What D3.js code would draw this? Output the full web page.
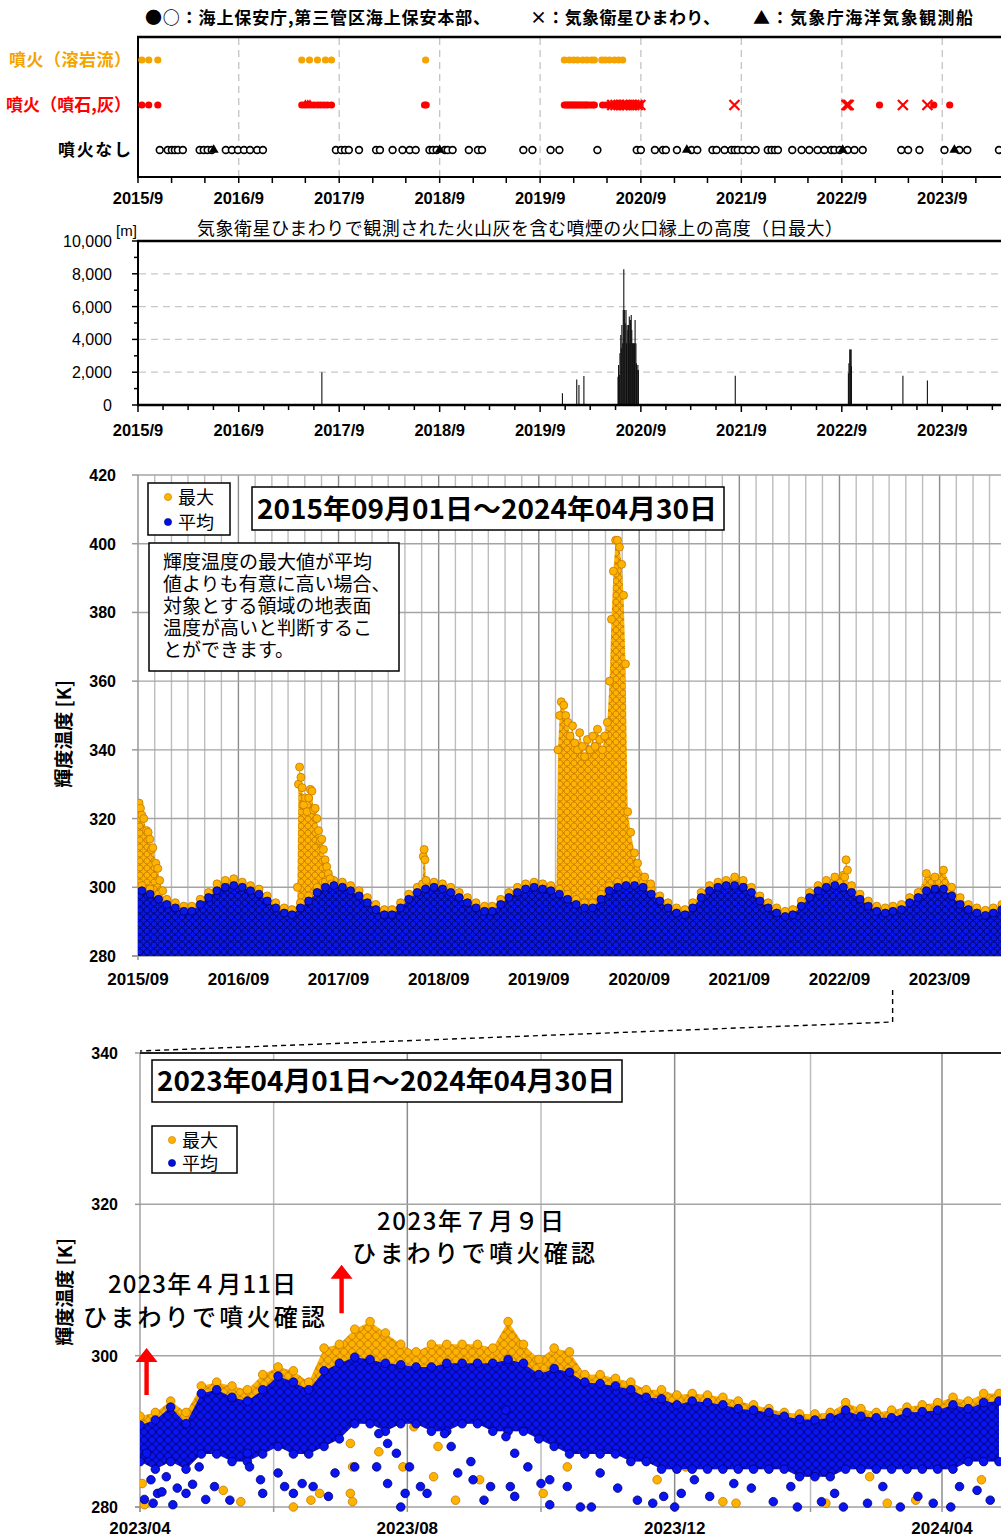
<!DOCTYPE html>
<html>
<head>
<meta charset="utf-8">
<script src="https://cdn.jsdelivr.net/npm/d3@7"></script>
<style>
  body { margin: 0; background: #fff; }
  svg { display: block; }
</style>
</head>
<body>
<svg id="chart" width="1001" height="1539"></svg>
<script>
// ---------- data ----------
// event timeline (top panel)
const lavaDates = ['2015-09-15','2015-10-10','2015-11-12','2017-04-18','2017-05-16','2017-06-14','2017-07-13','2017-08-04',
  '2018-07-12','2019-11-28','2019-12-16','2020-01-01','2020-01-15','2020-02-03','2020-02-18','2020-03-06','2020-03-16',
  '2020-04-12','2020-04-25','2020-05-10','2020-05-28','2020-06-12','2020-06-27'];
const ashDates = ['2015-09-15','2015-10-10','2015-11-12','2017-04-18','2017-04-28','2017-05-08','2017-05-20','2017-06-01',
  '2017-06-14','2017-06-25','2017-07-08','2017-07-20','2017-08-04','2018-07-08','2018-07-14',
  '2019-11-28','2019-12-04','2019-12-10','2019-12-16','2019-12-22','2019-12-28','2020-01-03','2020-01-09','2020-01-15',
  '2020-01-21','2020-01-27','2020-02-03','2020-02-09','2020-02-15','2020-02-21','2020-03-01','2020-03-10','2020-03-16',
  '2020-04-15','2020-04-28','2020-05-16','2020-05-21','2020-05-26','2020-05-31','2020-06-05','2020-06-10','2020-06-15',
  '2020-06-20','2020-06-25','2020-06-30','2020-07-05','2020-07-10','2020-07-15','2020-07-20','2020-07-25','2020-07-30',
  '2020-08-04','2020-08-09','2020-08-14','2020-08-19','2020-08-24','2020-08-29',
  '2023-01-16','2023-08-01','2023-09-28'];
const ashShipDates = ['2017-05-01','2017-05-10','2017-05-18'];
const ashHimawariDates = ['2020-05-20','2020-06-01','2020-06-12','2020-06-25','2020-07-05','2020-07-15','2020-07-28',
  '2020-08-08','2020-08-20','2020-08-30','2021-08-07','2022-09-18','2022-09-22','2022-09-26','2023-04-11','2023-07-09'];
const quietDates = ['2015-11-19','2015-12-18','2016-01-02','2016-01-13','2016-01-24','2016-02-11','2016-04-12','2016-04-27',
  '2016-05-11','2016-05-26','2016-07-16','2016-08-07','2016-08-29','2016-09-20','2016-10-12','2016-11-07','2016-11-28',
  '2017-08-20','2017-09-08','2017-09-22','2017-10-06','2017-11-12','2018-01-13','2018-01-27','2018-03-14','2018-04-19',
  '2018-05-15','2018-06-06','2018-07-26','2018-08-07','2018-08-21','2018-09-20','2018-09-30','2018-10-18','2018-12-16',
  '2019-01-18','2019-02-02','2019-07-02','2019-08-04','2019-10-09','2019-11-10','2020-03-27','2020-08-17','2020-09-01',
  '2020-10-22','2020-11-20','2020-12-01','2021-01-10','2021-03-04','2021-03-25','2021-05-19','2021-06-03','2021-07-02',
  '2021-07-27','2021-08-08','2021-08-19','2021-09-06','2021-09-28','2021-10-23','2021-12-06','2021-12-20','2022-01-01',
  '2022-01-12','2022-03-05','2022-04-08','2022-05-06','2022-06-05','2022-06-30','2022-07-25','2022-08-05','2022-08-24',
  '2022-09-22','2022-10-17','2022-11-16','2023-04-05','2023-04-30','2023-06-10','2023-09-09','2023-11-02','2023-12-01',
  '2024-03-25'];
const quietShipDates = ['2016-06-02','2018-09-01','2021-02-15','2022-09-04','2023-10-15'];

// plume height above crater rim [m] (second panel)
const plumeHeight = [
  ['2017-06-30',2000],['2019-11-21',710],['2020-01-12',1560],['2020-01-20',1220],['2020-02-07',1770],
  ['2020-06-10',1730],['2020-06-12',2440],['2020-06-15',1830],['2020-06-17',3150],['2020-06-20',4270],['2020-06-22',3460],
  ['2020-06-24',4880],['2020-06-27',3760],['2020-06-29',5790],['2020-07-01',8270],['2020-07-04',5790],['2020-07-06',4980],
  ['2020-07-09',5790],['2020-07-11',3760],['2020-07-13',4880],['2020-07-16',4570],['2020-07-18',4880],['2020-07-21',5390],
  ['2020-07-23',3760],['2020-07-25',5180],['2020-07-28',5490],['2020-07-30',4570],['2020-08-02',3760],['2020-08-04',3760],
  ['2020-08-06',3760],['2020-08-09',3760],['2020-08-11',5180],['2020-08-14',3760],['2020-08-16',2540],['2020-08-18',2130],
  ['2020-08-21',2440],['2020-08-23',2130],
  ['2021-08-10',1790],['2022-09-25',1930],['2022-09-27',2540],['2022-09-30',3390],['2022-10-02',3390],['2022-10-05',3390],
  ['2022-10-06',2340],['2023-04-11',1790],['2023-07-09',1500]];

// brightness temperature [K], monthly envelopes 2015/09 .. 2024/04 (main panel)
const meanTop = [299,298,296.5,295,
  294,293,293,295,297,299,300,300.5,300,299,298,296,
  294,292.5,292,294,296,298.5,300,300.5,300,299,297.5,295.5,
  293.5,292,292,294,296.5,298.5,299.5,300,299.5,298.5,297,295.5,
  294,293,293,295,297,298.5,299.5,300,299.5,299,298,296.5,
  295,294,294,296.5,299,300,300.5,300.5,300,298,296,294,
  292.5,292,294,297,299,300,300.5,300.5,300,298.5,296,294,
  292.5,291.5,292,294.5,297,299,300,300.5,300,298.5,296.5,294.5,
  293,292.5,293,293.5,295.5,297,299,299.5,299.5,297.5,295,293.5,
  292.5,291.8,292.5,293.5];
const maxTop = [300.5,299.5,298,296.5,
  295.5,294.5,294.5,296.5,298.5,301,302,302.5,301.5,300.5,299.5,297.5,
  295.5,294,293.5,295.5,297.5,300,301.5,302,301.5,300.5,299,297,
  295,293.5,293.5,295.5,298,300,301,301.5,301,300,298.5,297,
  295.5,294.5,294.5,296.5,298.5,300,301,301.5,301,300.5,299.5,298,
  296.5,295.5,295.5,298,300.5,301.5,302,302,301.5,299.5,297.5,295.5,
  294,293.5,295.5,298.5,300.5,301.5,302,303,302,300,297.5,295.5,
  294,293,293.5,296,298.5,300.5,302,303,303.5,300.5,298,296,
  294.5,294,294.5,295,297,298.5,304,303,305,300,297,295,
  294,293.3,294,295];
// eruption-period maxima (upper edge of the orange clusters)
const spike2015 = [['2015-09-01',322],['2015-09-05',324.5],['2015-09-10',323],['2015-09-15',321],['2015-09-22',320],
  ['2015-10-02',316.5],['2015-10-08',316],['2015-10-14',314],['2015-10-20',311],['2015-10-25',311.5],['2015-11-05',307],
  ['2015-11-12',305.5],['2015-11-19',302],['2015-11-30',299]];
const spike2017 = [['2017-04-04',300],['2017-04-08',330],['2017-04-12',335],['2017-04-17',332],['2017-04-21',329],
  ['2017-04-27',324],['2017-05-03',326],['2017-05-09',322],['2017-05-15',326],['2017-05-21',328.5],['2017-05-27',328],
  ['2017-06-02',322.5],['2017-06-08',323],['2017-06-14',320],['2017-06-20',316.5],['2017-06-26',313.5],['2017-07-02',314],
  ['2017-07-08',311],['2017-07-14',308],['2017-07-20',306],['2017-07-26',304],['2017-08-01',302.5],['2017-08-07',301]];
const spike2018 = [['2018-07-04',301],['2018-07-07',309],['2018-07-10',311],['2018-07-13',308],['2018-07-17',302]];
const spike2020 = [['2019-11-04',298],['2019-11-10',340],['2019-11-16',350],['2019-11-22',354],['2019-12-01',353],
  ['2019-12-08',350],['2019-12-16',348],['2019-12-24',344],['2020-01-02',347],['2020-01-10',342],['2020-01-20',340],
  ['2020-01-28',345],['2020-02-07',341],['2020-02-15',338],['2020-02-25',343],['2020-03-06',340],['2020-03-16',344],
  ['2020-03-24',341],['2020-04-02',346],['2020-04-10',343],['2020-04-20',340],['2020-04-28',344],['2020-05-08',348],
  ['2020-05-16',360],['2020-05-23',378],['2020-05-30',392],['2020-06-07',401],['2020-06-14',401],['2020-06-21',399],
  ['2020-06-29',394],['2020-07-06',385],['2020-07-13',365],['2020-07-21',322],['2020-08-01',316],['2020-08-15',310],
  ['2020-08-26',307],['2020-09-21',303],['2020-10-13',301]];
const spike2022 = [['2022-09-20',303],['2022-09-25',308],['2022-09-30',305]];

// zoomed panel, weekly from 2023/04/01
const zoomMaxTop = [292,292.5,294,292.5,296,296.5,296,295.5,297.5,298.5,298,296.5,301,301.5,303.5,304.5,303,301.5,300.5,
  301.5,301.5,301.5,301.5,301,304.5,301.5,299.5,301,300.5,297.5,297.5,297,296.5,295.5,295.5,294.8,295,294.8,294.5,294,
  293.5,293,292.5,292.3,292.3,292.5,293.8,293,292.5,292.8,293.2,293.5,293.8,294.5,294,295,295];
const zoomMeanTop = [290.8,291.5,293.2,291,295,295.5,294.5,294,295.5,297.3,296.5,295.5,298,299,299.8,299.5,299,298.8,298.5,
  298.5,299,299,299,299,299.5,299,297.5,298.3,297.8,296.5,296.3,296,295.5,294.5,294.3,293.5,294,293.8,293.5,293,
  292.8,292.5,292,291.6,291.5,291.8,292.8,292,291.8,291.8,292.5,292.6,292.8,293.5,293,293.8,294];
const zoomMeanLow = [286,285,286,285,287,287,286,286,287,288,287,287,288,289,291,291,290,291,291,290,
  290,291,291,290,290,290,289,288,287,287,287,287,286,286,285,285,285,285,285,285,
  285,285,285,284,284,284,285,285,285,285,285,285,285,285,286,286,286];
// isolated low readings [day since 2023/04/01, K]
const zoomMeanScatter = [[2,281],[3,287.1],[5,283.6],[6,280.5],[8,281.8],[10,282],[12,284],[15,280.3],[17,282.5],[21,281.8],
  [24,283],[27,285.3],[30,281],[34,282.7],[41,280.9],[49,287.1],[50,285.3],[55,283.6],[56,281.8],[63,284.5],[66,282.7],
  [70,281.8],[74,283.1],[79,282.7],[86,281.4],[89,284.5],[98,285.3],[108,285.3],[109,289.7],[113,283.1],[113,288.4],
  [117,287.1],[119,280],[121,281.8],[123,285.3],[128,282.7],[131,281.8],[139,289.7],[142,288],[145,284.5],[151,286],
  [152,283.6],[157,280.9],[160,282.7],[167,292.8],[167,289.3],[171,287.1],[169,282.7],[171,281.4],[177,285.3],[183,283.1],
  [187,283.6],[187,280.3],[195,282.7],[201,280],[206,280],[210,284.5],[218,282.5],[227,280.9],[234,280.5],[239,281.4],
  [244,280],[247,281.8],[253,283.6],[260,281.4],[271,283.1],[279,282.5],[289,280.7],[297,282.7],[300,280],[311,280.7],
  [317,281.8],[321,280],[332,280.5],[339,282.7],[347,280],[355,281.4],[362,280.5],[370,280],[374,282.7],[382,282.2],
  [388,280.9]];
const zoomMaxScatter = [[1,283.1],[2,280.3],[21,289.7],[38,282.2],[46,280.7],[70,280],[78,280.9],[82,281.8],[96,288.4],
  [97,285.3],[96,281.8],[97,280.7],[99,294.1],[109,287.3],[120,285.3],[125,290.6],[134,284],[136,288],[144,280.9],
  [155,283.6],[180,291.5],[184,281.8],[195,285.3],[206,288.9],[236,283.6],[249,285.3],[266,280.7],[272,280.5],[296,286.6],
  [313,280.5],[333,284],[341,280.5],[354,280.9],[376,288],[384,283.6]];
const arrowNotes = [
  {date: '2023-04-04', base: 294.8, tip: 301.0},
  {date: '2023-07-02', base: 305.6, tip: 312.0}];
const noteLines = ['輝度温度の最大値が平均', '値よりも有意に高い場合、', '対象とする領域の地表面', '温度が高いと判断するこ', 'とができます。'];

// ---------- setup ----------
const parse = d3.utcParse('%Y-%m-%d');
const JP = '"Noto Sans CJK JP","Noto Sans",sans-serif';
const LS = '"Liberation Sans",Arial,sans-serif';
const ORANGE = '#ffb300', ORANGE_EDGE = '#c27800';
const BLUE = '#0a18e6', BLUE_EDGE = '#00006a';

const svg = d3.select('#chart');
svg.append('rect').attr('width', 1001).attr('height', 1539).attr('fill', '#fff');
const defs = svg.append('defs');

function dotPattern(id, size, bg, fill, stroke) {
  const p = defs.append('pattern').attr('id', id).attr('patternUnits', 'userSpaceOnUse')
    .attr('width', size).attr('height', size);
  p.append('rect').attr('width', size).attr('height', size).attr('fill', bg);
  [[size / 2, size / 2], [0, 0], [size, 0], [0, size], [size, size]].forEach(c => {
    p.append('circle').attr('cx', c[0]).attr('cy', c[1]).attr('r', size * 0.43)
      .attr('fill', fill).attr('stroke', stroke).attr('stroke-width', 0.7);
  });
}
dotPattern('pOr', 7, '#d98f08', ORANGE, ORANGE_EDGE);
dotPattern('pBl', 7, '#00107a', BLUE, BLUE_EDGE);
dotPattern('pOr2', 8, '#e09a10', ORANGE, ORANGE_EDGE);
dotPattern('pBl2', 8, '#0a14a8', '#0a14f0', '#000070');

const tStart = parse('2015-09-01'), tEnd = parse('2024-09-01');
const months = d3.utcMonth.range(tStart, parse('2024-05-01'));   // 2015/09 .. 2024/04
const mid = d => d3.utcDay.offset(d, 14);

// ---------- panel 1 : events ----------
const x1 = d3.scaleUtc().domain([tStart, tEnd]).range([138, 1043]);
const row = {lava: 60, ash: 105, none: 150};
const p1 = svg.append('g');

p1.append('text').attr('y', 24).attr('font-family', JP).attr('font-size', 17).attr('font-weight', 'bold')
  .selectAll('tspan').data([
    {x: 145, s: '●○：海上保安庁,第三管区海上保安本部、', w: 345},
    {x: 530, s: '×：気象衛星ひまわり、', w: 190},
    {x: 753, s: '▲：気象庁海洋気象観測船', w: 220}])
  .join('tspan').attr('x', d => d.x).attr('textLength', d => d.w).text(d => d.s);

const yearTicks = d3.utcMonth.range(tStart, d3.utcDay.offset(tEnd, 1), 12);
p1.selectAll('line.grid').data(yearTicks.slice(1)).join('line')
  .attr('x1', d => x1(d)).attr('x2', d => x1(d)).attr('y1', 38).attr('y2', 177)
  .attr('stroke', '#c4c4c4').attr('stroke-width', 1.3).attr('stroke-dasharray', '7,5');
p1.append('line').attr('x1', 137).attr('x2', 1001).attr('y1', 37).attr('y2', 37).attr('stroke', '#000').attr('stroke-width', 2.5);
p1.append('line').attr('x1', 138).attr('x2', 138).attr('y1', 36).attr('y2', 178).attr('stroke', '#000').attr('stroke-width', 2);
p1.append('line').attr('x1', 137).attr('x2', 1001).attr('y1', 177).attr('y2', 177).attr('stroke', '#000').attr('stroke-width', 2);
p1.selectAll('line.tk').data(d3.utcMonth.range(tStart, tEnd, 4)).join('line')
  .attr('x1', d => x1(d)).attr('x2', d => x1(d)).attr('y1', 177).attr('y2', 183)
  .attr('stroke', '#000').attr('stroke-width', 1.5);
p1.selectAll('text.xl').data(yearTicks.filter(d => x1(d) < 1000)).join('text')
  .attr('x', d => x1(d)).attr('y', 204).attr('text-anchor', 'middle')
  .attr('font-family', LS).attr('font-weight', 'bold').attr('font-size', 16.5)
  .text(d3.utcFormat('%Y/%-m'));

[['噴火（溶岩流）', row.lava, '#f5a300', 122], ['噴火（噴石,灰）', row.ash, '#ff0000', 125], ['噴火なし', row.none, '#000', 73]]
  .forEach(r => p1.append('text').attr('x', 131).attr('y', r[1] + 6).attr('text-anchor', 'end')
    .attr('font-family', JP).attr('font-size', 17).attr('font-weight', 'bold').attr('fill', r[2])
    .attr('textLength', r[3]).text(r[0]));

p1.selectAll('circle.lava').data(lavaDates).join('circle')
  .attr('cx', d => x1(parse(d))).attr('cy', row.lava).attr('r', 3.6).attr('fill', '#f5a300');
p1.selectAll('circle.ash').data(ashDates).join('circle')
  .attr('cx', d => x1(parse(d))).attr('cy', row.ash).attr('r', 3.6).attr('fill', '#ff0000');
const tri = d3.symbol(d3.symbolTriangle, 42);
p1.selectAll('path.ashShip').data(ashShipDates).join('path')
  .attr('d', tri).attr('transform', d => `translate(${x1(parse(d))},${row.ash})`).attr('fill', '#ff0000');
const xMark = s => `M${-s},${-s}L${s},${s}M${-s},${s}L${s},${-s}`;
p1.selectAll('path.ashX').data(ashHimawariDates).join('path')
  .attr('d', xMark(5)).attr('transform', d => `translate(${x1(parse(d))},${row.ash})`)
  .attr('stroke', '#ff0000').attr('stroke-width', 2.2).attr('fill', 'none');
p1.selectAll('circle.none').data(quietDates).join('circle')
  .attr('cx', d => x1(parse(d))).attr('cy', row.none).attr('r', 3.4)
  .attr('fill', '#fff').attr('stroke', '#000').attr('stroke-width', 1.6);
p1.selectAll('path.noneShip').data(quietShipDates).join('path')
  .attr('d', tri).attr('transform', d => `translate(${x1(parse(d))},${row.none})`).attr('fill', '#000');

// ---------- panel 2 : plume height ----------
const y2 = d3.scaleLinear().domain([0, 10000]).range([405, 241]);
const p2 = svg.append('g');
p2.append('text').attr('x', 197).attr('y', 235).attr('font-family', JP).attr('font-size', 18)
  .attr('textLength', 646).text('気象衛星ひまわりで観測された火山灰を含む噴煙の火口縁上の高度（日最大）');
p2.append('text').attr('x', 116).attr('y', 236).attr('font-family', LS).attr('font-size', 15).text('[m]');
p2.selectAll('line.g').data([2000, 4000, 6000, 8000]).join('line')
  .attr('x1', 139).attr('x2', 1001).attr('y1', d => y2(d)).attr('y2', d => y2(d))
  .attr('stroke', '#c8c8c8').attr('stroke-width', 1.2).attr('stroke-dasharray', '7,5');
p2.selectAll('line.bar').data(plumeHeight).join('line')
  .attr('x1', d => x1(parse(d[0]))).attr('x2', d => x1(parse(d[0])))
  .attr('y1', y2(0)).attr('y2', d => y2(d[1])).attr('stroke', '#111').attr('stroke-width', 1.1);
p2.append('line').attr('x1', 137).attr('x2', 1001).attr('y1', 241).attr('y2', 241).attr('stroke', '#000').attr('stroke-width', 2.5);
p2.append('line').attr('x1', 138).attr('x2', 138).attr('y1', 240).attr('y2', 406).attr('stroke', '#000').attr('stroke-width', 2);
p2.append('line').attr('x1', 137).attr('x2', 1001).attr('y1', 405).attr('y2', 405).attr('stroke', '#000').attr('stroke-width', 2.5);
p2.selectAll('line.ytk').data(d3.range(0, 10001, 1000)).join('line')
  .attr('x1', d => d % 2000 ? 134 : 132).attr('x2', 138).attr('y1', d => y2(d)).attr('y2', d => y2(d))
  .attr('stroke', '#000').attr('stroke-width', 1.5);
p2.selectAll('text.yl').data(d3.range(0, 10001, 2000)).join('text')
  .attr('x', 112).attr('y', d => y2(d) + 6).attr('text-anchor', 'end')
  .attr('font-family', LS).attr('font-size', 16).text(d3.format(','));
p2.selectAll('line.xtk').data(d3.utcMonth.range(tStart, tEnd, 3)).join('line')
  .attr('x1', d => x1(d)).attr('x2', d => x1(d)).attr('y1', 405).attr('y2', d => d.getUTCMonth() === 8 ? 412 : 410)
  .attr('stroke', '#000').attr('stroke-width', 1.5);
p2.selectAll('text.xl').data(yearTicks.filter(d => x1(d) < 1000)).join('text')
  .attr('x', d => x1(d)).attr('y', 436).attr('text-anchor', 'middle')
  .attr('font-family', LS).attr('font-weight', 'bold').attr('font-size', 16.5)
  .text(d3.utcFormat('%Y/%-m'));

// ---------- panel 3 : brightness temperature, whole period ----------
const x3 = d3.scaleUtc().domain([tStart, tEnd]).range([138, 1040]);
const y3 = d3.scaleLinear().domain([280, 420]).range([956, 475]);
const p3 = svg.append('g');
p3.selectAll('line.vg').data(d3.utcMonth.range(tStart, tEnd, 2).slice(1)).join('line')
  .attr('x1', d => x3(d)).attr('x2', d => x3(d)).attr('y1', 475).attr('y2', 956)
  .attr('stroke', d => d.getUTCMonth() === 8 ? '#8c8c8c' : '#bdbdbd').attr('stroke-width', 1.4);
p3.selectAll('line.hg').data(d3.range(300, 421, 20)).join('line')
  .attr('x1', 138).attr('x2', 1001).attr('y1', d => y3(d)).attr('y2', d => y3(d))
  .attr('stroke', '#a4a4a4').attr('stroke-width', 1.4);
p3.append('line').attr('x1', 138).attr('x2', 138).attr('y1', 475).attr('y2', 960).attr('stroke', '#999').attr('stroke-width', 1.5);
p3.append('line').attr('x1', 132).attr('x2', 1001).attr('y1', 956).attr('y2', 956).attr('stroke', '#999').attr('stroke-width', 1.5);
p3.selectAll('line.ytk').data(d3.range(280, 421, 20)).join('line')
  .attr('x1', 132).attr('x2', 138).attr('y1', d => y3(d)).attr('y2', d => y3(d)).attr('stroke', '#999').attr('stroke-width', 1.5);

defs.append('clipPath').attr('id', 'c3').append('rect').attr('x', 138).attr('y', 470).attr('width', 863).attr('height', 486);
const d3g = p3.append('g').attr('clip-path', 'url(#c3)');
const envArea = (s, base) => d3.area().x(d => s.x(d.t)).y0(s.y(base)).y1(d => s.y(d.v));
const mainS = {x: x3, y: y3};
const maxPts = months.map((m, i) => ({t: mid(m), v: maxTop[i]}));
const meanPts = months.map((m, i) => ({t: mid(m), v: meanTop[i]}));
const spikes = [spike2015, spike2017, spike2018, spike2020, spike2022]
  .map(s => s.map(d => ({t: parse(d[0]), v: d[1]})));

// max envelope (behind)
d3g.append('path').datum([{t: tStart, v: maxTop[0]}, ...maxPts, {t: parse('2024-05-15'), v: maxTop[maxTop.length - 1]}])
  .attr('d', envArea(mainS, 280)).attr('fill', 'url(#pOr)');
spikes.forEach(s => {
  d3g.append('path').datum(s).attr('d', envArea(mainS, 292)).attr('fill', 'url(#pOr)');
});
d3g.selectAll('circle.mx').data(maxPts.concat(...spikes)).join('circle')
  .attr('cx', d => x3(d.t)).attr('cy', d => y3(d.v)).attr('r', 4)
  .attr('fill', ORANGE).attr('stroke', ORANGE_EDGE).attr('stroke-width', 0.8);
// mean envelope (front)
d3g.append('path').datum([{t: tStart, v: meanTop[0]}, ...meanPts, {t: parse('2024-05-15'), v: meanTop[meanTop.length - 1]}])
  .attr('d', envArea(mainS, 280)).attr('fill', 'url(#pBl)');
d3g.selectAll('circle.mn').data(meanPts).join('circle')
  .attr('cx', d => x3(d.t)).attr('cy', d => y3(d.v)).attr('r', 4)
  .attr('fill', BLUE).attr('stroke', BLUE_EDGE).attr('stroke-width', 0.8);

p3.selectAll('text.yl').data(d3.range(280, 421, 20)).join('text')
  .attr('x', 116).attr('y', d => y3(d) + 6).attr('text-anchor', 'end')
  .attr('font-family', LS).attr('font-weight', 'bold').attr('font-size', 16).text(d => d);
p3.selectAll('text.xl').data(yearTicks.filter(d => x3(d) < 1000)).join('text')
  .attr('x', d => x3(d)).attr('y', 985).attr('text-anchor', 'middle')
  .attr('font-family', LS).attr('font-weight', 'bold').attr('font-size', 17)
  .text(d3.utcFormat('%Y/%m'));
p3.append('text').attr('transform', 'translate(71,734) rotate(-90)').attr('text-anchor', 'middle')
  .attr('font-family', JP).attr('font-weight', 'bold').attr('font-size', 19).text('輝度温度 [K]');

function legend(g, x, y, w, h, gap) {
  g.append('rect').attr('x', x).attr('y', y).attr('width', w).attr('height', h)
    .attr('fill', '#fff').attr('stroke', '#000').attr('stroke-width', 1.5);
  [['最大', ORANGE, ORANGE_EDGE], ['平均', '#0010e0', '#000080']].forEach((r, i) => {
    const cy = y + 14 + i * gap;
    g.append('circle').attr('cx', x + 20).attr('cy', cy).attr('r', 3.6).attr('fill', r[1]).attr('stroke', r[2]).attr('stroke-width', 0.6);
    g.append('text').attr('x', x + 30).attr('y', cy + 7).attr('font-family', JP).attr('font-size', 18).text(r[0]);
  });
}
function titleBox(g, x, y, w, h, s, tw) {
  g.append('rect').attr('x', x).attr('y', y).attr('width', w).attr('height', h)
    .attr('fill', '#fff').attr('stroke', '#000').attr('stroke-width', 1.5);
  g.append('text').attr('x', x + 5).attr('y', y + h / 2 + 10).attr('font-family', JP).attr('font-weight', 'bold')
    .attr('font-size', 27).attr('textLength', tw).attr('lengthAdjust', 'spacingAndGlyphs').text(s);
}
legend(p3, 148, 483, 82, 52, 25);
titleBox(p3, 252, 487, 472, 43, '2015年09月01日～2024年04月30日', 460);
p3.append('rect').attr('x', 149).attr('y', 543).attr('width', 250).attr('height', 128)
  .attr('fill', '#fff').attr('stroke', '#000').attr('stroke-width', 1.5);
p3.selectAll('text.note').data(noteLines).join('text')
  .attr('x', 163).attr('y', (d, i) => 569 + i * 22).attr('font-family', JP).attr('font-size', 19)
  .text(d => d);

// connector from main panel to zoom panel
const x4 = d3.scaleUtc().domain([parse('2023-04-01'), parse('2024-04-01')]).range([140, 942]);
const y4 = d3.scaleLinear().domain([280, 340]).range([1507, 1053]);
const zx = x3(parse('2023-04-01')) - 5;
svg.append('path').attr('d', `M${zx},990V1022L${x4(parse('2023-04-01'))},1051`)
  .attr('fill', 'none').attr('stroke', '#000').attr('stroke-width', 1.4).attr('stroke-dasharray', '5,4');

// ---------- panel 4 : zoom 2023/04 - 2024/04 ----------
const p4 = svg.append('g');
const zStart = parse('2023-04-01');
const grid4 = d3.utcMonth.range(zStart, parse('2024-07-01'), 2);
p4.selectAll('line.vg').data(grid4.slice(1)).join('line')
  .attr('x1', d => x4(d)).attr('x2', d => x4(d)).attr('y1', 1053).attr('y2', 1507)
  .attr('stroke', (d, i) => i % 2 ? '#8c8c8c' : '#bdbdbd').attr('stroke-width', 1.5);
p4.selectAll('line.hg').data([300, 320]).join('line')
  .attr('x1', 140).attr('x2', 1001).attr('y1', d => y4(d)).attr('y2', d => y4(d))
  .attr('stroke', '#a4a4a4').attr('stroke-width', 1.5);
p4.append('line').attr('x1', 140).attr('x2', 140).attr('y1', 1053).attr('y2', 1512).attr('stroke', '#a0a0a0').attr('stroke-width', 1.5);
p4.append('line').attr('x1', 135).attr('x2', 1001).attr('y1', 1507).attr('y2', 1507).attr('stroke', '#a0a0a0').attr('stroke-width', 1.5);
p4.selectAll('line.ytk').data([280, 300, 320, 340]).join('line')
  .attr('x1', 135).attr('x2', 140).attr('y1', d => y4(d)).attr('y2', d => y4(d)).attr('stroke', '#999').attr('stroke-width', 1.5);
p4.selectAll('line.xtk').data(grid4).join('line')
  .attr('x1', d => x4(d)).attr('x2', d => x4(d)).attr('y1', 1507).attr('y2', 1512).attr('stroke', '#999').attr('stroke-width', 1.5);

defs.append('clipPath').attr('id', 'c4').append('rect').attr('x', 140).attr('y', 1053).attr('width', 861).attr('height', 460);
const z = p4.append('g').attr('clip-path', 'url(#c4)');
const weeks = d3.utcDay.range(zStart, parse('2024-05-01'), 7);
const zMax = weeks.map((t, i) => ({t, v: zoomMaxTop[i], lo: zoomMeanLow[i]}));
const zMean = weeks.map((t, i) => ({t, v: zoomMeanTop[i], lo: zoomMeanLow[i]}));
const band = d3.area().x(d => x4(d.t)).y0(d => y4(d.lo)).y1(d => y4(d.v));
z.append('path').datum(zMax).attr('d', band).attr('fill', 'url(#pOr2)');
z.selectAll('circle.zmx').data(zMax).join('circle')
  .attr('cx', d => x4(d.t)).attr('cy', d => y4(d.v)).attr('r', 4.3)
  .attr('fill', ORANGE).attr('stroke', ORANGE_EDGE).attr('stroke-width', 0.8);
z.selectAll('circle.zos').data(zoomMaxScatter).join('circle')
  .attr('cx', d => x4(d3.utcDay.offset(zStart, d[0]))).attr('cy', d => y4(d[1])).attr('r', 4.3)
  .attr('fill', ORANGE).attr('stroke', ORANGE_EDGE).attr('stroke-width', 0.8);
z.append('path').datum(zMean).attr('d', band).attr('fill', 'url(#pBl2)');
z.selectAll('circle.zmn').data(zMean).join('circle')
  .attr('cx', d => x4(d.t)).attr('cy', d => y4(d.v)).attr('r', 4.3)
  .attr('fill', '#0a14f0').attr('stroke', BLUE_EDGE).attr('stroke-width', 0.8);
z.selectAll('circle.zml').data(zMean).join('circle')
  .attr('cx', d => x4(d.t)).attr('cy', d => y4(d.lo)).attr('r', 4.3)
  .attr('fill', '#0a14f0').attr('stroke', BLUE_EDGE).attr('stroke-width', 0.8);
z.selectAll('circle.zbs').data(zoomMeanScatter).join('circle')
  .attr('cx', d => x4(d3.utcDay.offset(zStart, d[0]))).attr('cy', d => y4(d[1])).attr('r', 4.3)
  .attr('fill', '#0a14f0').attr('stroke', BLUE_EDGE).attr('stroke-width', 0.8);

p4.append('line').attr('x1', 140).attr('x2', 1001).attr('y1', 1053).attr('y2', 1053).attr('stroke', '#222').attr('stroke-width', 2);
p4.selectAll('text.yl').data([280, 300, 320, 340]).join('text')
  .attr('x', 118).attr('y', d => y4(d) + 6).attr('text-anchor', 'end')
  .attr('font-family', LS).attr('font-weight', 'bold').attr('font-size', 16).text(d => d);
p4.selectAll('text.xl').data(d3.utcMonth.range(zStart, parse('2024-05-01'), 4)).join('text')
  .attr('x', d => x4(d)).attr('y', 1534).attr('text-anchor', 'middle')
  .attr('font-family', LS).attr('font-weight', 'bold').attr('font-size', 17)
  .text(d3.utcFormat('%Y/%m'));
p4.append('text').attr('transform', 'translate(72,1292) rotate(-90)').attr('text-anchor', 'middle')
  .attr('font-family', JP).attr('font-weight', 'bold').attr('font-size', 19).text('輝度温度 [K]');

titleBox(p4, 152, 1060, 470, 42, '2023年04月01日～2024年04月30日', 458);
legend(p4, 152, 1126, 85, 47, 23);

[{x: 377, y: 1230, s: '2023年７月９日', w: 187}, {x: 352, y: 1262, s: 'ひまわりで噴火確認', w: 243},
 {x: 108, y: 1293, s: '2023年４月11日', w: 188}, {x: 83, y: 1326, s: 'ひまわりで噴火確認', w: 242}]
  .forEach(a => p4.append('text').attr('x', a.x).attr('y', a.y).attr('font-family', JP)
    .attr('font-size', 24).attr('font-weight', 500).attr('textLength', a.w).text(a.s));

arrowNotes.forEach(a => {
  const ax = x4(parse(a.date)), yb = y4(a.base), yt = y4(a.tip);
  p4.append('path')
    .attr('d', `M${ax - 2.2},${yb}V${yt + 14}H${ax - 11}L${ax},${yt}L${ax + 11},${yt + 14}H${ax + 2.2}V${yb}Z`)
    .attr('fill', '#ff0000');
});
</script>
</body>
</html>
